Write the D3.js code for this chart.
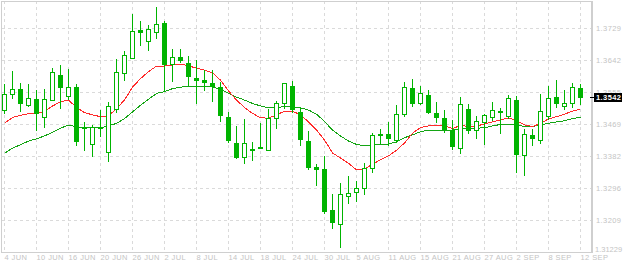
<!DOCTYPE html>
<html>
<head>
<meta charset="utf-8">
<script src="https://cdn.jsdelivr.net/npm/d3@7"></script>
<style>
  body { margin: 0; background: #ffffff; }
  svg { display: block; }
  .tick_label { font-family: "Liberation Sans", Arial, sans-serif; font-size: 7.5px; fill: #c4c4c4; letter-spacing: 0.4px; }
</style>
</head>
<body>
<svg id="chart" width="624" height="266"></svg>
<script>
var opens  = [1.3506,1.3550,1.3563,1.3520,1.3536,1.3487,1.3533,1.3601,1.3544,1.3569,
              1.3459,1.3414,1.3458,1.3393,1.3509,1.3606,1.3647,1.3723,1.3693,1.3717,
              1.3742,1.3631,1.3650,1.3634,1.3593,1.3586,1.3579,1.3567,1.3487,1.3417,
              1.3379,1.3399,1.3405,1.3398,1.3485,1.3524,1.3572,1.3500,1.3423,1.3352,
              1.3345,1.3234,1.3198,1.3274,1.3283,1.3294,1.3348,1.3442,1.3440,1.3425,
              1.3496,1.3566,1.3524,1.3547,1.3498,1.3483,1.3452,1.3404,1.3509,1.3452,
              1.3474,1.3487,1.3504,1.3489,1.3534,1.3385,1.3437,1.3425,1.3489,1.3542,
              1.3517,1.3525,1.3566]
var highs  = [1.3578,1.3613,1.3580,1.3578,1.3561,1.3564,1.3620,1.3629,1.3618,1.3578,
              1.3474,1.3466,1.3507,1.3528,1.3644,1.3666,1.3766,1.3747,1.3736,1.3785,
              1.3747,1.3671,1.3671,1.3653,1.3642,1.3615,1.3615,1.3582,1.3501,1.3464,
              1.3483,1.3420,1.3473,1.3510,1.3532,1.3580,1.3586,1.3512,1.3450,1.3361,
              1.3383,1.3280,1.3310,1.3329,1.3315,1.3365,1.3445,1.3455,1.3474,1.3520,
              1.3583,1.3590,1.3571,1.3560,1.3528,1.3506,1.3479,1.3542,1.3523,1.3490,
              1.3496,1.3528,1.3512,1.3547,1.3544,1.3455,1.3455,1.3550,1.3572,1.3588,
              1.3560,1.3580,1.3578]
var lows   = [1.3497,1.3536,1.3503,1.3516,1.3451,1.3459,1.3532,1.3511,1.3533,1.3411,
              1.3397,1.3379,1.3435,1.3367,1.3498,1.3586,1.3644,1.3680,1.3668,1.3698,
              1.3557,1.3582,1.3634,1.3571,1.3523,1.3559,1.3528,1.3476,1.3419,1.3375,
              1.3362,1.3370,1.3404,1.3397,1.3457,1.3511,1.3498,1.3411,1.3346,1.3302,
              1.3226,1.3184,1.3135,1.3252,1.3258,1.3278,1.3338,1.3415,1.3411,1.3419,
              1.3489,1.3516,1.3520,1.3497,1.3472,1.3444,1.3400,1.3387,1.3441,1.3430,
              1.3413,1.3477,1.3441,1.3482,1.3338,1.3329,1.3411,1.3416,1.3479,1.3512,
              1.3508,1.3512,1.3520]
var closes = [1.3550,1.3563,1.3524,1.3539,1.3497,1.3536,1.3609,1.3568,1.3569,1.3421,
              1.3458,1.3459,1.3459,1.3517,1.3609,1.3655,1.3720,1.3717,1.3725,1.3739,
              1.3631,1.3650,1.3642,1.3597,1.3588,1.3581,1.3572,1.3492,1.3425,1.3378,
              1.3417,1.3398,1.3404,1.3485,1.3525,1.3578,1.3509,1.3428,1.3352,1.3346,
              1.3232,1.3202,1.3279,1.3280,1.3294,1.3348,1.3439,1.3438,1.3430,1.3496,
              1.3569,1.3525,1.3552,1.3500,1.3487,1.3454,1.3408,1.3523,1.3452,1.3477,
              1.3493,1.3506,1.3500,1.3539,1.3386,1.3441,1.3431,1.3504,1.3539,1.3525,
              1.3525,1.3569,1.3542]
var ma_red = [1.3471,1.3487,1.3493,1.3497,1.3498,1.3503,1.3518,1.3529,1.3534,1.3514,
              1.3500,1.3494,1.3489,1.3491,1.3511,1.3534,1.3569,1.3592,1.3611,1.3626,
              1.3626,1.3629,1.3631,1.3627,1.3620,1.3615,1.3608,1.3588,1.3559,1.3534,
              1.3514,1.3498,1.3486,1.3485,1.3494,1.3504,1.3504,1.3494,1.3475,1.3453,
              1.3426,1.3391,1.3377,1.3363,1.3345,1.3347,1.3361,1.3372,1.3383,1.3398,
              1.3418,1.3444,1.3460,1.3464,1.3466,1.3464,1.3457,1.3465,1.3463,1.3464,
              1.3469,1.3475,1.3480,1.3486,1.3478,1.3467,1.3462,1.3471,1.3483,1.3489,
              1.3496,1.3504,1.3510]
var ma_green = [1.3390,1.3404,1.3413,1.3423,1.3429,1.3437,1.3447,1.3458,1.3466,1.3462,
              1.3459,1.3459,1.3459,1.3464,1.3471,1.3484,1.3502,1.3520,1.3536,1.3552,
              1.3557,1.3565,1.3569,1.3571,1.3571,1.3571,1.3570,1.3563,1.3552,1.3542,
              1.3534,1.3525,1.3518,1.3513,1.3514,1.3516,1.3516,1.3513,1.3507,1.3496,
              1.3476,1.3453,1.3437,1.3423,1.3414,1.3410,1.3412,1.3414,1.3415,1.3421,
              1.3432,1.3440,1.3448,1.3453,1.3453,1.3453,1.3453,1.3455,1.3457,1.3458,
              1.3459,1.3464,1.3468,1.3469,1.3466,1.3463,1.3462,1.3467,1.3471,1.3475,
              1.3478,1.3484,1.3487]
var date_labels = ["4 JUN","10 JUN","16 JUN","20 JUN","26 JUN","2 JUL","8 JUL","14 JUL","18 JUL","24 JUL",
                   "30 JUL","5 AUG","11 AUG","15 AUG","21 AUG","27 AUG","2 SEP","8 SEP","12 SEP"]
var price_ticks = [1.31229,1.3209,1.3296,1.3382,1.3469,1.3555,1.3642,1.3729]
var price_labels = ["1.31229","1.3209","1.3296","1.3382","1.3469","1.3555","1.3642","1.3729"]
var last_price_label = "1.3542"

var candle_color = "#00b400"
var frame_color = "#cfcfcf"
var grid_color = "#dadada"

var svg = d3.select("#chart")
var plot_left = 2, plot_right = 592, plot_top = 1, plot_bottom = 252

var x = d3.scaleLinear().domain([0, closes.length - 1]).range([4.5, 580.5])
var y = d3.scaleLinear().domain([1.31229, 1.3729]).range([252, 28])

function snap(v) { return Math.round(v - 0.5) + 0.5 }

// grid
var grid_idx = d3.range(0, closes.length, 4)
svg.append("g").selectAll("line").data(grid_idx).join("line")
  .attr("x1", d => x(d)).attr("x2", d => x(d))
  .attr("y1", plot_top).attr("y2", plot_bottom)
  .attr("stroke", grid_color).attr("stroke-dasharray", "3,3")
  .attr("shape-rendering", "crispEdges")
svg.append("g").selectAll("line").data(price_ticks.slice(1)).join("line")
  .attr("x1", plot_left).attr("x2", plot_right)
  .attr("y1", d => snap(y(d))).attr("y2", d => snap(y(d)))
  .attr("stroke", grid_color).attr("stroke-dasharray", "3,3")
  .attr("shape-rendering", "crispEdges")

// frame
svg.append("rect")
  .attr("x", plot_left - 0.5).attr("y", plot_top + 0.5)
  .attr("width", plot_right - plot_left + 0.5).attr("height", plot_bottom - plot_top)
  .attr("fill", "none").attr("stroke", frame_color).attr("stroke-width", 1.5)
  .attr("shape-rendering", "crispEdges")

// moving averages
var ma_line = d3.line().x((d, i) => x(i)).y(d => y(d))
svg.append("path").datum(ma_green).attr("d", ma_line)
  .attr("fill", "none").attr("stroke", "#14a514").attr("stroke-width", 1)
  .attr("shape-rendering", "crispEdges")
svg.append("path").datum(ma_red).attr("d", ma_line)
  .attr("fill", "none").attr("stroke", "#ff2a2a").attr("stroke-width", 1)
  .attr("shape-rendering", "crispEdges")

// candles
var candles = d3.range(closes.length).map(i => ({i: i, o: opens[i], h: highs[i], l: lows[i], c: closes[i]}))
var cg = svg.append("g").selectAll("g").data(candles).join("g")
cg.append("line")
  .attr("x1", d => x(d.i)).attr("x2", d => x(d.i))
  .attr("y1", d => Math.round(y(d.h))).attr("y2", d => Math.round(y(d.l)))
  .attr("stroke", candle_color).attr("stroke-width", 1)
  .attr("shape-rendering", "crispEdges")
cg.append("path")
  .attr("d", function(d) {
    var x0 = x(d.i) - 2, x1 = x(d.i) + 2
    var y0 = snap(y(Math.max(d.o, d.c))), y1 = snap(y(Math.min(d.o, d.c)))
    return "M" + x0 + "," + y0 + "H" + x1 + "V" + y1 + "H" + x0 + "Z"
  })
  .attr("fill", d => d.c >= d.o ? "#ffffff" : candle_color)
  .attr("stroke", candle_color).attr("stroke-width", 1)
  .attr("shape-rendering", "crispEdges")

// axes
var y_axis = d3.axisRight(y).tickValues(price_ticks)
  .tickFormat((d, i) => price_labels[i]).tickSize(0).tickPadding(4)
var ya = svg.append("g").attr("transform", "translate(" + plot_right + ",0)").call(y_axis)
ya.select(".domain").remove()
ya.selectAll("text").attr("class", "tick_label").attr("fill", null).attr("font-size", null).attr("font-family", null)
ya.selectAll(".tick").filter((d, i) => i == 0).select("text")
  .attr("dy", "-0.05em").attr("x", 3).style("letter-spacing", "0px")

var x_axis = d3.axisBottom(x).tickValues(grid_idx)
  .tickFormat((d, i) => date_labels[i]).tickSize(0).tickPadding(3)
var xa = svg.append("g").attr("transform", "translate(0," + plot_bottom + ")").call(x_axis)
xa.select(".domain").remove()
xa.selectAll("text").attr("class", "tick_label").attr("fill", null).attr("font-size", null).attr("font-family", null)
  .attr("text-anchor", "start").attr("x", -0.5)

// last price marker
var last_y = Math.round(y(closes[closes.length - 1]))
svg.append("line")
  .attr("x1", 590).attr("x2", 594).attr("y1", last_y + 0.5).attr("y2", last_y + 0.5)
  .attr("stroke", "#000").attr("shape-rendering", "crispEdges")
svg.append("rect")
  .attr("x", 594).attr("y", last_y - 4).attr("width", 28).attr("height", 9)
  .attr("fill", "#000")
svg.append("text")
  .attr("x", 596).attr("y", last_y + 0.5).attr("dy", "0.35em")
  .attr("fill", "#ffffff")
  .style("font-family", "'Liberation Sans', Arial, sans-serif").style("font-size", "7.5px")
  .style("font-weight", "bold").style("letter-spacing", "0.4px")
  .text(last_price_label)
</script>
</body>
</html>
